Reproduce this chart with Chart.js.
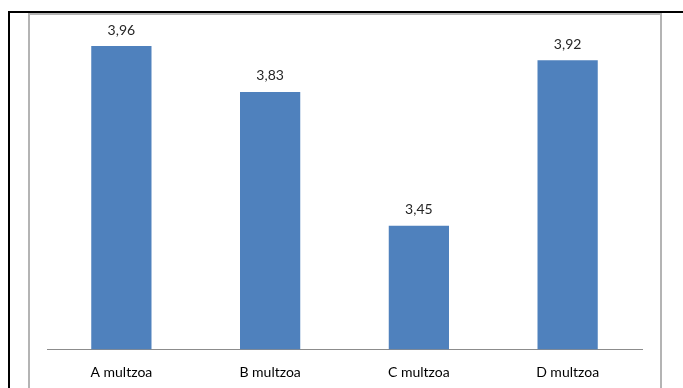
<!DOCTYPE html>
<html>
<head>
<meta charset="utf-8">
<script src="https://cdn.jsdelivr.net/npm/chart.js@4/dist/chart.umd.min.js"></script>
<style>
  html, body { margin: 0; padding: 0; background: #fff; }
  #wrap { position: relative; width: 683px; height: 388px; overflow: hidden; }
  .line { position: absolute; }
  #chart { position: absolute; left: 0; top: 0; }
</style>
</head>
<body>
<div id="wrap">
  <!-- outer black frame -->
  <div class="line" style="left:8px; top:11px; width:675px; height:2px; background:#000;"></div>
  <div class="line" style="left:8px; top:11px; width:2px; height:377px; background:#000;"></div>
  <!-- chart area frame -->
  <div class="line" style="left:28px; top:13px; width:634px; height:380px; border:2px solid #b4b4b4; box-sizing:border-box;"></div>
  <canvas id="chart" width="683" height="388"></canvas>
</div>
<script>
const categories = ['A multzoa', 'B multzoa', 'C multzoa', 'D multzoa'];
const values = [3.96, 3.83, 3.45, 3.92];
const yMin = 3.1;
const yMax = 4.0;

// value labels above each bar, comma decimals
const valueLabels = {
  id: 'valueLabels',
  afterDatasetsDraw(chart) {
    const ctx = chart.ctx;
    const meta = chart.getDatasetMeta(0);
    ctx.save();
    ctx.font = '14px Lato, "Open Sans", sans-serif';
    ctx.fillStyle = '#262626';
    ctx.textAlign = 'center';
    ctx.textBaseline = 'middle';
    meta.data.forEach((bar, i) => {
      const txt = values[i].toFixed(2).replace('.', ',');
      ctx.fillText(txt, bar.x, bar.y - 16);
    });
    ctx.restore();
  }
};

new Chart(document.getElementById('chart').getContext('2d'), {
  type: 'bar',
  data: {
    labels: categories,
    datasets: [{
      data: values,
      backgroundColor: '#4f81bd',
      barPercentage: 0.405,
      categoryPercentage: 1.0,
    }]
  },
  options: {
    responsive: false,
    animation: false,
    layout: { padding: { left: 47, right: 41, top: 32, bottom: -8 } },
    plugins: { legend: { display: false }, tooltip: { enabled: false } },
    scales: {
      x: {
        grid: { display: true, drawOnChartArea: false, drawTicks: false },
        border: { display: true, color: '#8c8c8c', width: 1 },
        ticks: { color: '#000', font: { family: 'Lato, "Open Sans", sans-serif', size: 14 }, padding: 15 }
      },
      y: { display: false, min: yMin, max: yMax }
    }
  },
  plugins: [valueLabels]
});
</script>
</body>
</html>
